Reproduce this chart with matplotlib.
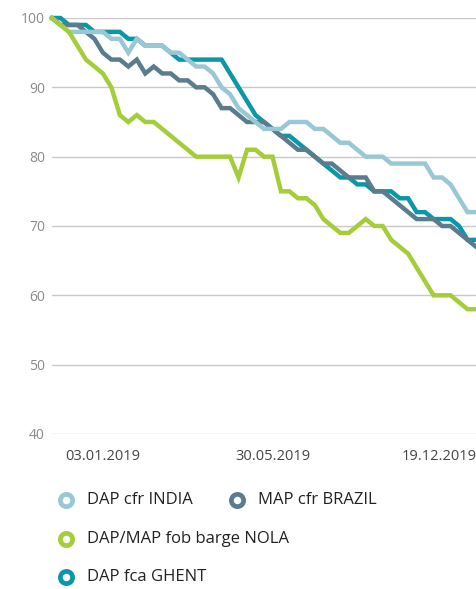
import matplotlib
matplotlib.use("Agg")
import matplotlib.pyplot as plt
from matplotlib.lines import Line2D

plt.rcParams["font.family"] = ["Open Sans", "DejaVu Sans"]

# weekly index values (start = 100)
india = [100, 99, 98, 98, 98, 98, 98, 97, 97, 95, 97, 96, 96, 96, 95, 95, 94, 93, 93, 92,
         90, 89, 87, 86, 85, 84, 84, 84, 85, 85, 85, 84, 84, 83, 82, 82, 81, 80, 80, 80,
         79, 79, 79, 79, 79, 77, 77, 76, 74, 72, 72]
brazil = [100, 99, 99, 99, 98, 97, 95, 94, 94, 93, 94, 92, 93, 92, 92, 91, 91, 90, 90, 89,
          87, 87, 86, 85, 85, 85, 84, 83, 82, 81, 81, 80, 79, 79, 78, 77, 77, 77, 75, 75,
          74, 73, 72, 71, 71, 71, 70, 70, 69, 68, 67]
nola = [100, 99, 98, 96, 94, 93, 92, 90, 86, 85, 86, 85, 85, 84, 83, 82, 81, 80, 80, 80,
        80, 80, 77, 81, 81, 80, 80, 75, 75, 74, 74, 73, 71, 70, 69, 69, 70, 71, 70, 70,
        68, 67, 66, 64, 62, 60, 60, 60, 59, 58, 58]
ghent = [100, 100, 99, 99, 99, 98, 98, 98, 98, 97, 97, 96, 96, 96, 95, 94, 94, 94, 94, 94,
         94, 92, 90, 88, 86, 85, 84, 83, 83, 82, 81, 80, 79, 78, 77, 77, 76, 76, 75, 75,
         75, 74, 74, 72, 72, 71, 71, 71, 70, 68, 68]

tick_idx = [6, 26, 45.6]
tick_labels = ["03.01.2019", "30.05.2019", "19.12.2019"]
y_ticks = [40, 50, 60, 70, 80, 90, 100]

series = [
    ("DAP fca GHENT", ghent, "#0b97a8"),
    ("MAP cfr BRAZIL", brazil, "#5a7c8d"),
    ("DAP cfr INDIA", india, "#99c8d5"),
    ("DAP/MAP fob barge NOLA", nola, "#a5cd39"),
]
colors = {name: c for name, _, c in series}

W, H = 477, 589
fig = plt.figure(figsize=(W / 100, H / 100), dpi=100)
ax = fig.add_axes([52 / W, 1 - 434 / H, 424 / W, (434 - 18) / H])

x = list(range(len(india)))
for name, vals, col in series:
    ax.plot(x, vals, color=col, lw=3.2, clip_on=False, solid_joinstyle="miter")

ax.set_xlim(0, len(india) - 1)
ax.set_ylim(40, 100)
ax.set_yticks(y_ticks)
ax.set_xticks(tick_idx)
ax.set_xticklabels(tick_labels)
ax.grid(axis="y", color="#c9c9c9", lw=1)
ax.set_axisbelow(True)
for s in ax.spines.values():
    s.set_visible(False)
ax.tick_params(axis="y", length=0, pad=5, labelsize=10, labelcolor="#8a8a8a")
ax.tick_params(axis="x", length=0, pad=11, labelsize=10.5, labelcolor="#444444")

# legend laid out in pixel space
lax = fig.add_axes([0, 0, 1, 1], facecolor="none")
lax.set_xlim(0, W)
lax.set_ylim(H, 0)
lax.axis("off")
legend_items = [
    ("DAP cfr INDIA", 66.5, 500),
    ("MAP cfr BRAZIL", 237.5, 500),
    ("DAP/MAP fob barge NOLA", 66.5, 539),
    ("DAP fca GHENT", 66.5, 577),
]
for name, lx, ly in legend_items:
    lax.add_line(Line2D([lx], [ly], marker="o", markersize=8.8, markeredgewidth=3.4,
                        markerfacecolor="white", markeredgecolor=colors[name]))
    lax.text(lx + 20.5, ly, name, fontsize=12, color="#222222", va="center", ha="left")

fig.savefig("out.png", dpi=100)
